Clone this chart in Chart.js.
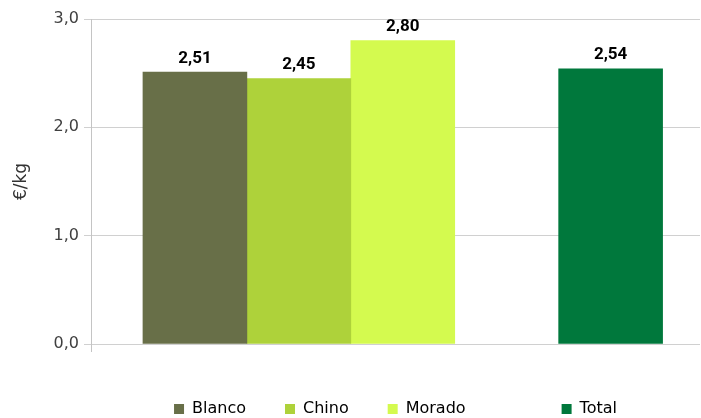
<!DOCTYPE html>
<html>
<head>
<meta charset="utf-8">
<script src="https://cdn.jsdelivr.net/npm/chart.js@4.4.1/dist/chart.umd.min.js"></script>
<style>
  html, body { margin: 0; padding: 0; background: #ffffff; }
  #wrap { width: 701px; height: 418px; position: relative; }
</style>
</head>
<body>
<div id="wrap"><canvas id="c"></canvas></div>
<script>
// ---- data ----
const categories = ['Blanco', 'Chino', 'Morado', 'Total'];
const slots = [0, 1, 2, 4];            // slot index along the x axis (slot 3 is empty)
const values = [2.51, 2.45, 2.80, 2.54];
const colors = ['#686F48', '#AED23A', '#D4FA4F', '#00783C'];
const yTickLabels = ['0,0', '1,0', '2,0', '3,0'];
const yTitle = '€/kg';

Chart.defaults.font.family = "'DejaVu Sans', sans-serif";

const datasets = categories.map((c, i) => ({
  label: c,
  data: [{ x: slots[i], y: values[i] }],
  backgroundColor: colors[i],
  borderWidth: 0,
  barPercentage: 1,
  categoryPercentage: 1
}));

const valueLabels = {
  id: 'valueLabels',
  afterDatasetsDraw(chart) {
    const ctx = chart.ctx;
    ctx.save();
    ctx.font = "bold 17px Roboto, 'DejaVu Sans', sans-serif";
    ctx.fillStyle = '#000000';
    ctx.textAlign = 'center';
    ctx.textBaseline = 'alphabetic';
    chart.data.datasets.forEach((ds, i) => {
      const meta = chart.getDatasetMeta(i);
      meta.data.forEach((el, j) => {
        const v = ds.data[j].y;
        ctx.fillText(v.toFixed(2).replace('.', ','), el.x, el.y - 9.5);
      });
    });
    ctx.restore();
  }
};

new Chart(document.getElementById('c'), {
  type: 'bar',
  data: { datasets },
  plugins: [valueLabels],
  options: {
    responsive: true,
    maintainAspectRatio: false,
    animation: false,
    layout: { padding: { top: 19, right: 1, left: 0, bottom: 0 } },
    scales: {
      x: {
        type: 'linear',
        offset: false,
        min: -1,
        max: 4.86,
        stacked: true,
        ticks: { display: false, stepSize: 1, includeBounds: false },
        grid: {
          display: true,
          offset: false,
          drawOnChartArea: false,
          tickLength: 8,
          color: (ctx) => (ctx.tick && ctx.tick.value === -1) ? '#c4c4c4' : 'rgba(0,0,0,0)'
        },
        border: { display: false },
        afterFit: (s) => { s.height = 18; }
      },
      y: {
        min: 0,
        max: 3,
        ticks: {
          stepSize: 1,
          padding: 5,
          color: '#404040',
          font: { size: 16 },
          callback: (v, i) => yTickLabels[i]
        },
        grid: { color: '#d0d0d0', tickLength: 7 },
        border: { color: '#c4c4c4' },
        title: {
          display: true,
          text: yTitle,
          color: '#333333',
          font: { size: 17 },
          padding: { top: 11, bottom: 0 }
        },
        afterFit: (s) => { s.width = 91; }
      }
    },
    plugins: {
      tooltip: { enabled: false },
      legend: {
        position: 'bottom',
        fullSize: false,
        maxHeight: 56,
        onClick: () => {},
        labels: {
          font: { size: 16 },
          color: '#333333',
          boxWidth: 10,
          boxHeight: 10,
          padding: 39,
          generateLabels: (chart) => {
            const items = chart.data.datasets.map((ds, i) => ({
              text: ds.label,
              fillStyle: ds.backgroundColor,
              strokeStyle: ds.backgroundColor,
              lineWidth: 0,
              hidden: false,
              datasetIndex: i
            }));
            const blank = { text: '', fillStyle: 'rgba(0,0,0,0)', strokeStyle: 'rgba(0,0,0,0)', lineWidth: 0, hidden: false };
            return [items[0], items[1], items[2], blank, items[3]];
          }
        }
      }
    }
  }
});
</script>
</body>
</html>
